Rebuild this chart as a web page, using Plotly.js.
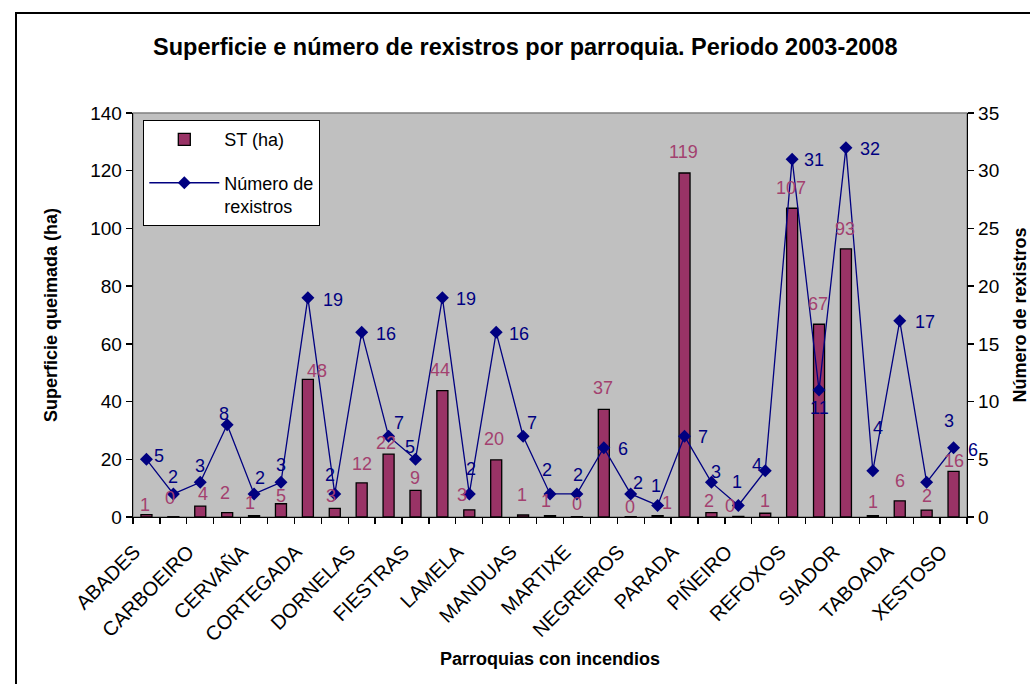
<!DOCTYPE html>
<html>
<head>
<meta charset="utf-8">
<script src="https://cdn.plot.ly/plotly-3.0.1.min.js"></script>
<style>
  html, body { margin: 0; padding: 0; background: #fff; overflow: hidden; }
  #chart { width: 1030px; height: 684px; }
  #frame { position: absolute; left: 15px; top: 12px; width: 1100px; height: 800px;
           border: 2px solid #000; pointer-events: none; }
</style>
</head>
<body>
<div id="chart"></div>
<div id="frame"></div>
<script>
// ---- data ----
const categories = ['ABADES','ANSEMIL','CARBOEIRO','CASTRO','CERVAÑA','CHAPA','CORTEGADA','COUSO',
  'DORNELAS','ESCUADRO','FIESTRAS','GRABA','LAMELA','LARO','MANDUAS','MARGARIDE','MARTIXE','MOALDE',
  'NEGREIROS','OLEIROS','PARADA','PAZOS','PIÑEIRO','PONTE','REFOXOS','RELLAS','SIADOR','SILLEDA',
  'TABOADA','VILAR','XESTOSO'];
const superficie = [0.8,0.1,3.8,1.5,0.5,4.6,47.7,3.0,11.8,21.8,9.2,43.8,2.5,19.8,0.7,0.5,0.1,37.3,
  0.1,0.5,119.2,1.5,0.2,1.3,107.0,66.8,92.9,0.5,5.6,2.4,15.8];
const rexistros = [5,2,3,8,2,3,19,2,16,7,5,19,2,16,7,2,2,6,2,1,7,3,1,4,31,11,32,4,17,3,6];
// shown tick labels (every other category)
const tickLabels = categories.map((c, i) => (i % 2 === 0 ? c : ''));

// ---- label offsets (pixels) ----
const barLabelDx = [-1.5,-3,3,-2,-4,0,9,-4,0,-3,0,-2,-7,-2,-1,-4,0,-1,-1,9,-1,-2,-8,0,-1,-1,-1,0,0,0,0];
const barLabelDy = [-10,-19,-12,-20,-13,-8,-8,-12,-19,-11,-12,-21,-15,-21,-20,-15,-13,-21,-10,-13,-21,-12,-10,-12,-20,-20,-20,-14,-20,-14,-10];
const lineLabelDx = [13,0,0,-3,6,0,25,-5,24,10,-5,24,2,23,9,-3,1,19,7,-2,18,5,-1,-8,22,0,24,5,25,22,19];
const lineLabelDy = [-3,-17,-16,-11,-16,-17,2,-19,2,-13,-12,1,-25,2,-13,-24,-19,1,-11,-19,1,-10,-23,-6,1,18,1,-43,1,-61,2];

const FONT = 'Liberation Sans, Arial, sans-serif';
const BAR_COLOR = '#993366';
const BAR_TEXT = '#a3406f';
const LINE_COLOR = '#000080';

const traces = [
  {
    type: 'bar', name: 'ST (ha)', x: categories, y: superficie, yaxis: 'y',
    legendgroup: 'st',
    marker: { color: BAR_COLOR, line: { color: '#000', width: 1.3 } },
    hoverinfo: 'x+y'
  },
  {
    type: 'scatter', mode: 'lines+markers', name: 'Número de<br>rexistros',
    x: categories, y: rexistros, yaxis: 'y2',
    legendgroup: 'rex',
    line: { color: LINE_COLOR, width: 1.3 },
    marker: { symbol: 'diamond', size: 10, color: LINE_COLOR }
  }
];

const annotations = [];
categories.forEach((c, i) => {
  annotations.push({
    x: c, y: superficie[i], xref: 'x', yref: 'y', text: String(Math.round(superficie[i])),
    showarrow: false, xanchor: 'center', yanchor: 'middle',
    xshift: barLabelDx[i], yshift: -barLabelDy[i],
    font: { family: FONT, size: 18, color: BAR_TEXT }
  });
  annotations.push({
    x: c, y: rexistros[i], xref: 'x', yref: 'y2', text: String(rexistros[i]),
    showarrow: false, xanchor: 'center', yanchor: 'middle',
    xshift: lineLabelDx[i], yshift: -lineLabelDy[i],
    font: { family: FONT, size: 18, color: LINE_COLOR }
  });
});

const layout = {
  width: 1030, height: 684,
  margin: { l: 133, r: 63, t: 113, b: 167 },
  paper_bgcolor: '#ffffff',
  plot_bgcolor: '#c0c0c0',
  font: { family: FONT, size: 18, color: '#000' },
  title: {
    text: '<b>Superficie e número de rexistros por parroquia. Periodo 2003-2008</b>',
    font: { family: FONT, size: 23.5, color: '#000' },
    x: 0.51, xref: 'container', xanchor: 'center',
    y: 1 - 47 / 684, yref: 'container', yanchor: 'middle'
  },
  bargap: 0.59,
  showlegend: true,
  legend: {
    x: 0.012, y: 0.983, xanchor: 'left', yanchor: 'top',
    bgcolor: '#ffffff', bordercolor: '#000', borderwidth: 1.3,
    font: { family: FONT, size: 18, color: '#000' },
    traceorder: 'grouped', tracegroupgap: 17,
    itemwidth: 70, valign: 'top'
  },
  xaxis: {
    type: 'category',
    range: [-0.5, categories.length - 0.5], autorange: false,
    tickmode: 'array', tickvals: categories, ticktext: tickLabels,
    tickson: 'boundaries',
    tickangle: -45,
    ticklabelstandoff: 14, ticklabelshift: -12,
    ticks: 'outside', ticklen: 6, tickwidth: 1.3, tickcolor: '#000',
    showline: true, linecolor: '#000', linewidth: 1.3,
    showgrid: false, zeroline: false,
    tickfont: { family: FONT, size: 20, color: '#000' },
    title: { text: '<b>Parroquias con incendios</b>', font: { family: FONT, size: 18, color: '#000' }, standoff: 8 },
    automargin: false
  },
  yaxis: {
    range: [0, 140], dtick: 20, tick0: 0,
    ticks: 'outside', ticklen: 6, tickwidth: 1.3, tickcolor: '#000',
    showline: true, linecolor: '#000', linewidth: 1.3,
    showgrid: false, zeroline: false,
    tickfont: { family: FONT, size: 19, color: '#000' },
    title: { text: '<b>Superficie queimada (ha)</b>', font: { family: FONT, size: 18, color: '#000' }, standoff: 28 },
    automargin: false
  },
  yaxis2: {
    overlaying: 'y', side: 'right',
    range: [0, 35], dtick: 5, tick0: 0,
    ticks: 'outside', ticklen: 6, tickwidth: 1.3, tickcolor: '#000',
    showline: true, linecolor: '#000', linewidth: 1.3,
    showgrid: false, zeroline: false,
    tickfont: { family: FONT, size: 19, color: '#000' },
    title: { text: '<b>Número de rexistros</b>', font: { family: FONT, size: 18, color: '#000' }, standoff: 20 },
    automargin: false
  },
  shapes: [{
    type: 'rect', xref: 'paper', yref: 'paper', x0: 0, x1: 1, y0: 0, y1: 1,
    line: { color: '#808080', width: 1.3 }, layer: 'below'
  }],
  annotations: annotations
};

Plotly.newPlot('chart', traces, layout, { displayModeBar: false, staticPlot: true });
</script>
</body>
</html>
